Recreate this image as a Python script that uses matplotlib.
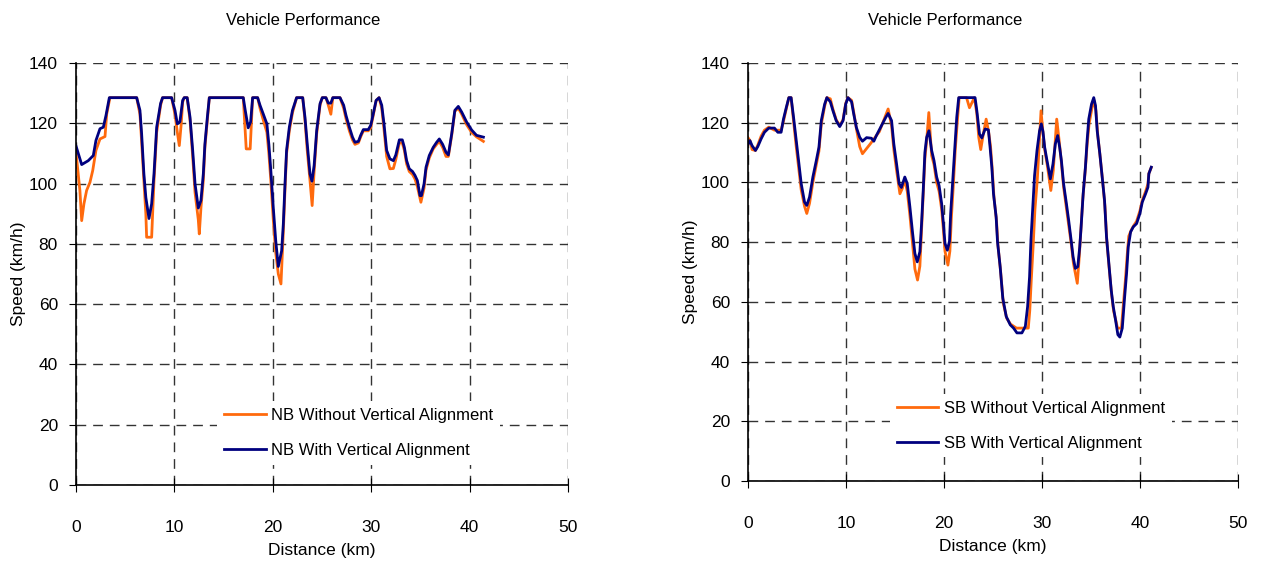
import matplotlib
matplotlib.use('Agg')
import matplotlib.pyplot as plt

plt.rcParams['font.family'] = ['Liberation Sans', 'DejaVu Sans']

# (distance km, speed km/h) along the route
nb_with = [
    (0.0, 112.5), (0.58, 106.3), (1.25, 107.6), (1.76, 109.3), (2.03, 114.3), (2.44, 118.2),
    (2.78, 118.7), (3.05, 122.6), (3.39, 128.5), (6.17, 128.5), (6.5, 124.3), (6.67, 116.6),
    (6.9, 103.3), (7.1, 95.4), (7.42, 88.4), (7.69, 93.3), (7.93, 103.3), (8.2, 118.7),
    (8.6, 126.6), (8.8, 128.5), (9.72, 128.5), (10.06, 124.3), (10.3, 119.8), (10.56, 120.5),
    (10.84, 127.6), (11.0, 128.5), (11.3, 128.5), (11.59, 122.0), (11.86, 111.0), (12.1, 99.9),
    (12.43, 91.9), (12.7, 94.4), (12.94, 103.2), (13.1, 113.0), (13.35, 122.0), (13.55, 128.5),
    (17.0, 128.5), (17.2, 124.3), (17.5, 118.5), (17.75, 120.5), (17.95, 128.5), (18.46, 128.5),
    (18.7, 126.0), (19.04, 123.0), (19.4, 119.8), (19.6, 113.0), (19.8, 104.3), (20.05, 92.0),
    (20.3, 81.0), (20.56, 72.5), (20.9, 77.7), (21.07, 86.6), (21.24, 99.9), (21.4, 111.0),
    (21.68, 118.7), (22.0, 124.3), (22.42, 128.5), (23.04, 128.5), (23.27, 122.0), (23.5, 113.2),
    (23.78, 103.2), (23.98, 100.8), (24.2, 106.0), (24.46, 117.6), (24.8, 126.5), (25.03, 128.5),
    (25.4, 128.5), (25.64, 126.7), (25.9, 126.7), (26.1, 128.5), (26.83, 128.5), (27.2, 126.0),
    (27.44, 122.6), (27.78, 118.7), (28.1, 115.4), (28.35, 113.7), (28.7, 114.0), (28.93, 116.0),
    (29.2, 117.9), (29.7, 117.9), (29.95, 119.3), (30.2, 123.0), (30.5, 127.6), (30.8, 128.5),
    (31.07, 126.0), (31.3, 119.8), (31.57, 111.0), (31.9, 108.2), (32.25, 107.6), (32.5, 109.5),
    (32.86, 114.5), (33.16, 114.5), (33.37, 112.0), (33.6, 107.6), (33.87, 104.9), (34.2, 104.0),
    (34.45, 102.7), (34.69, 101.0), (34.96, 96.0), (35.1, 96.0), (35.37, 99.9), (35.57, 105.4),
    (35.9, 109.3), (36.3, 112.0), (36.65, 113.7), (36.92, 114.8), (37.26, 113.0), (37.6, 110.4),
    (37.84, 109.5), (38.18, 116.5), (38.5, 124.3), (38.85, 125.6), (39.2, 123.7), (39.7, 120.4),
    (40.2, 117.8), (40.7, 116.0), (41.4, 115.4),
]

nb_without = [
    (0.0, 110.4), (0.4, 97.7), (0.58, 87.7), (0.81, 93.3), (1.08, 97.7), (1.42, 100.4),
    (1.7, 104.3), (2.03, 111.0), (2.44, 114.8), (2.95, 115.6), (3.12, 123.0), (3.45, 128.5),
    (6.17, 128.5), (6.5, 123.0), (6.67, 114.0), (6.9, 101.0), (7.1, 90.0), (7.18, 82.2),
    (7.69, 82.2), (7.93, 101.0), (8.2, 117.0), (8.6, 126.0), (8.8, 128.5), (9.72, 128.5),
    (10.06, 123.0), (10.3, 117.0), (10.5, 112.6), (10.7, 120.0), (10.84, 127.0), (11.0, 128.5),
    (11.3, 128.5), (11.59, 121.0), (11.86, 109.0), (12.1, 97.0), (12.43, 88.0), (12.53, 83.3),
    (12.7, 92.0), (12.94, 101.0), (13.1, 112.0), (13.35, 121.0), (13.55, 128.5), (17.0, 128.5),
    (17.3, 111.5), (17.7, 111.5), (17.95, 128.5), (18.46, 128.5), (18.7, 125.0), (19.04, 121.0),
    (19.4, 117.0), (19.6, 110.0), (19.8, 101.0), (20.05, 88.0), (20.3, 77.0), (20.56, 70.0),
    (20.83, 66.7), (21.07, 84.0), (21.24, 98.0), (21.4, 110.0), (21.68, 117.5), (22.0, 123.5),
    (22.42, 128.5), (23.04, 128.5), (23.27, 121.0), (23.5, 111.0), (23.78, 101.0), (24.0, 92.7),
    (24.2, 104.0), (24.46, 116.5), (24.8, 126.0), (25.03, 128.5), (25.4, 128.5), (25.64, 126.0),
    (25.9, 123.0), (26.1, 128.5), (26.83, 128.5), (27.2, 125.0), (27.44, 121.5), (27.78, 117.5),
    (28.1, 114.5), (28.35, 113.0), (28.7, 113.5), (28.93, 115.5), (29.2, 117.5), (29.7, 117.5),
    (29.95, 118.5), (30.2, 122.5), (30.5, 127.5), (30.8, 128.5), (31.07, 125.0), (31.3, 118.0),
    (31.57, 109.0), (31.9, 104.9), (32.25, 105.0), (32.5, 108.0), (32.86, 113.5), (33.16, 113.5),
    (33.37, 111.0), (33.6, 106.5), (33.87, 104.0), (34.2, 103.0), (34.45, 101.5), (34.69, 99.0),
    (35.05, 93.8), (35.37, 98.5), (35.57, 104.5), (35.9, 108.5), (36.3, 111.5), (36.65, 113.0),
    (36.92, 114.0), (37.26, 112.0), (37.6, 109.0), (37.84, 109.0), (38.18, 116.0), (38.5, 124.0),
    (38.85, 125.0), (39.2, 123.0), (39.7, 119.5), (40.2, 117.0), (40.7, 115.5), (41.4, 114.0),
]

sb_with = [
    (0.0, 112.7), (0.2, 114.0), (0.42, 112.3), (0.76, 110.7), (1.0, 112.0), (1.34, 114.6),
    (1.68, 116.8), (2.12, 118.2), (2.7, 118.2), (3.04, 116.8), (3.38, 116.8), (3.62, 121.2),
    (3.9, 125.0), (4.17, 128.4), (4.4, 128.4), (4.65, 121.8), (4.92, 114.0), (5.2, 106.2),
    (5.43, 99.6), (5.77, 93.4), (6.0, 92.3), (6.28, 95.1), (6.62, 101.8), (6.97, 107.3),
    (7.24, 111.8), (7.48, 120.7), (7.82, 126.2), (8.05, 128.4), (8.4, 127.0), (8.67, 124.0),
    (9.0, 120.7), (9.36, 118.7), (9.7, 120.7), (9.97, 126.2), (10.2, 128.4), (10.57, 127.0),
    (10.79, 122.9), (11.06, 118.4), (11.4, 115.1), (11.68, 113.8), (12.1, 115.0), (12.6, 114.8),
    (12.84, 113.8), (13.1, 115.7), (13.62, 119.0), (14.06, 121.8), (14.3, 123.1), (14.65, 120.7),
    (14.88, 112.9), (15.16, 106.2), (15.42, 99.6), (15.65, 98.3), (16.0, 101.8), (16.25, 99.6),
    (16.52, 91.8), (16.8, 82.9), (17.03, 76.2), (17.27, 73.4), (17.54, 76.8), (17.71, 86.2),
    (17.88, 97.3), (18.05, 110.0), (18.23, 115.1), (18.46, 117.3), (18.74, 110.7), (18.98, 107.3),
    (19.25, 101.8), (19.5, 98.9), (19.76, 92.9), (19.94, 86.2), (20.1, 79.6), (20.34, 77.3),
    (20.56, 80.3), (20.68, 89.6), (20.89, 100.7), (21.12, 112.9), (21.3, 121.8), (21.5, 128.4),
    (23.17, 128.4), (23.35, 124.0), (23.62, 116.2), (23.86, 114.9), (24.2, 117.9), (24.53, 117.6),
    (24.7, 111.8), (24.88, 105.1), (25.05, 96.2), (25.32, 88.4), (25.46, 80.1), (25.73, 71.8),
    (26.0, 61.2), (26.35, 55.1), (26.76, 52.3), (27.1, 51.2), (27.44, 49.6), (27.95, 49.6),
    (28.3, 51.8), (28.53, 58.4), (28.73, 68.4), (28.87, 80.7), (29.08, 92.9), (29.24, 102.3),
    (29.49, 110.7), (29.75, 117.3), (29.93, 119.6), (30.1, 117.0), (30.27, 111.8), (30.51, 107.3),
    (30.85, 101.2), (31.12, 106.2), (31.36, 112.9), (31.6, 115.7), (31.8, 111.8), (31.98, 107.3),
    (32.2, 99.6), (32.49, 92.9), (32.72, 87.3), (32.97, 80.7), (33.17, 75.1), (33.4, 71.2),
    (33.65, 71.8), (33.85, 78.4), (33.99, 85.1), (34.2, 96.2), (34.43, 105.1), (34.6, 114.0),
    (34.77, 121.2), (35.05, 126.2), (35.28, 128.4), (35.46, 125.7), (35.63, 117.3), (35.9, 109.6),
    (36.14, 101.8), (36.38, 94.0), (36.58, 81.8), (36.82, 72.9), (37.06, 64.0), (37.27, 58.4),
    (37.5, 54.0), (37.74, 49.0), (37.94, 48.2), (38.19, 51.2), (38.42, 61.2), (38.63, 69.6),
    (38.8, 78.4), (39.04, 83.4), (39.31, 85.1), (39.65, 86.2), (39.99, 89.6), (40.23, 93.4),
    (40.57, 96.2), (40.81, 98.4), (40.9, 102.9), (41.15, 105.1),
]

sb_without = [
    (0.0, 115.0), (0.2, 114.0), (0.42, 111.0), (0.76, 110.7), (1.0, 112.5), (1.34, 115.5),
    (1.68, 117.5), (2.12, 118.5), (2.7, 117.5), (3.04, 117.5), (3.38, 117.5), (3.62, 120.5),
    (3.9, 124.5), (4.17, 128.4), (4.4, 128.4), (4.65, 120.5), (4.92, 112.0), (5.2, 104.0),
    (5.43, 97.5), (5.77, 92.0), (6.0, 89.6), (6.28, 93.0), (6.62, 100.0), (6.97, 106.0),
    (7.24, 110.5), (7.48, 119.5), (7.82, 125.5), (8.05, 128.4), (8.4, 128.0), (8.67, 124.5),
    (9.0, 121.0), (9.36, 119.0), (9.7, 121.0), (9.97, 126.5), (10.2, 128.4), (10.57, 127.5),
    (10.79, 123.5), (11.06, 118.0), (11.4, 112.0), (11.68, 109.6), (12.5, 113.0), (13.4, 117.0),
    (14.3, 124.6), (14.65, 119.0), (14.88, 111.0), (15.16, 104.0), (15.5, 96.2), (15.75, 98.0),
    (16.0, 101.0), (16.25, 97.0), (16.52, 89.0), (16.8, 79.0), (17.03, 71.0), (17.3, 67.3),
    (17.54, 72.0), (17.71, 84.0), (17.88, 96.0), (18.05, 108.0), (18.23, 114.0), (18.45, 123.4),
    (18.74, 109.0), (18.98, 106.0), (19.25, 100.0), (19.5, 97.0), (19.76, 91.0), (19.94, 84.0),
    (20.1, 77.0), (20.4, 72.3), (20.6, 77.0), (20.75, 88.0), (20.95, 99.0), (21.15, 111.0),
    (21.35, 120.0), (21.55, 128.4), (22.3, 128.4), (22.6, 125.0), (23.1, 128.4), (23.35, 123.0),
    (23.55, 115.0), (23.75, 111.0), (24.0, 116.0), (24.3, 121.2), (24.55, 117.0), (24.75, 112.0),
    (24.93, 104.0), (25.1, 95.0), (25.36, 87.0), (25.5, 79.0), (25.78, 70.0), (26.05, 59.5),
    (26.4, 54.5), (26.8, 52.5), (27.4, 51.2), (28.6, 51.2), (28.75, 57.0), (28.9, 67.0),
    (29.1, 79.0), (29.28, 91.0), (29.52, 101.0), (29.7, 112.0), (29.9, 124.0), (30.1, 116.5),
    (30.3, 110.5), (30.55, 105.5), (30.9, 97.3), (31.15, 104.0), (31.5, 121.2), (31.75, 114.0),
    (31.98, 106.5), (32.2, 98.5), (32.5, 91.0), (32.75, 85.0), (33.0, 79.0), (33.2, 73.0),
    (33.6, 66.2), (33.8, 75.0), (33.95, 83.0), (34.15, 94.0), (34.4, 103.5), (34.6, 112.5),
    (34.8, 119.5), (35.1, 125.0), (35.3, 127.5), (35.5, 124.0), (35.7, 115.5), (35.95, 108.0),
    (36.2, 100.0), (36.42, 92.0), (36.62, 80.0), (36.86, 71.0), (37.1, 62.5), (37.3, 57.0),
    (37.55, 53.5), (37.7, 51.2), (38.1, 51.2), (38.3, 59.0), (38.5, 67.0), (38.7, 76.0),
    (38.85, 82.0), (39.1, 84.0), (39.35, 85.5), (39.65, 87.0), (39.99, 90.5), (40.23, 94.0),
    (40.57, 97.0), (40.81, 99.5), (40.9, 103.0), (41.15, 105.0),
]

# tag, data, axes rect, legend anchor (axes fraction), title x (axes fraction)
panels = [
    ('NB', nb_without, nb_with, [0.0602, 0.1446, 0.3899, 0.7443], (0.287, 0.123), 0.461),
    ('SB', sb_without, sb_with, [0.5927, 0.1517, 0.3883, 0.7372], (0.290, 0.132), 0.402),
]

fig = plt.figure(figsize=(12.62, 5.67), dpi=100)

for tag, without, with_, rect, leg_anchor, title_x in panels:
    ax = fig.add_axes(rect)
    x_wo, y_wo = zip(*without)
    x_w, y_w = zip(*with_)
    ax.plot(x_wo, y_wo, color='#ff6a0d', lw=2.0, label=tag + ' Without Vertical Alignment')
    ax.plot(x_w, y_w, color='#00007f', lw=2.0, label=tag + ' With Vertical Alignment')

    ax.set_xlim(0, 50)
    ax.set_ylim(0, 140)
    ax.set_xticks(range(0, 51, 10))
    ax.set_yticks(range(0, 141, 20))
    ax.grid(True, color='#333333', linestyle=(0, (7, 5)), linewidth=1.0)
    ax.set_axisbelow(True)
    for side in ('top', 'right'):
        ax.spines[side].set_visible(False)
    for side in ('left', 'bottom'):
        ax.spines[side].set_linewidth(1.2)
    ax.tick_params(axis='x', direction='inout', length=10, pad=20, labelsize=12.5)
    ax.tick_params(axis='y', direction='out', length=5, pad=8, labelsize=12.5)

    ax.set_title('Vehicle Performance', fontsize=12, pad=27, x=title_x)
    ax.set_xlabel('Distance (km)', fontsize=12.5, labelpad=6)
    ax.set_ylabel('Speed (km/h)', fontsize=12.5, labelpad=2)

    leg = ax.legend(loc='center left', bbox_to_anchor=leg_anchor, frameon=True,
                    fontsize=12, handlelength=2.5, handletextpad=0.35,
                    labelspacing=1.2, borderaxespad=0)
    leg.get_frame().set_edgecolor('none')
    leg.get_frame().set_facecolor('white')
    leg.get_frame().set_alpha(1.0)

fig.savefig('out.png', dpi=100)
